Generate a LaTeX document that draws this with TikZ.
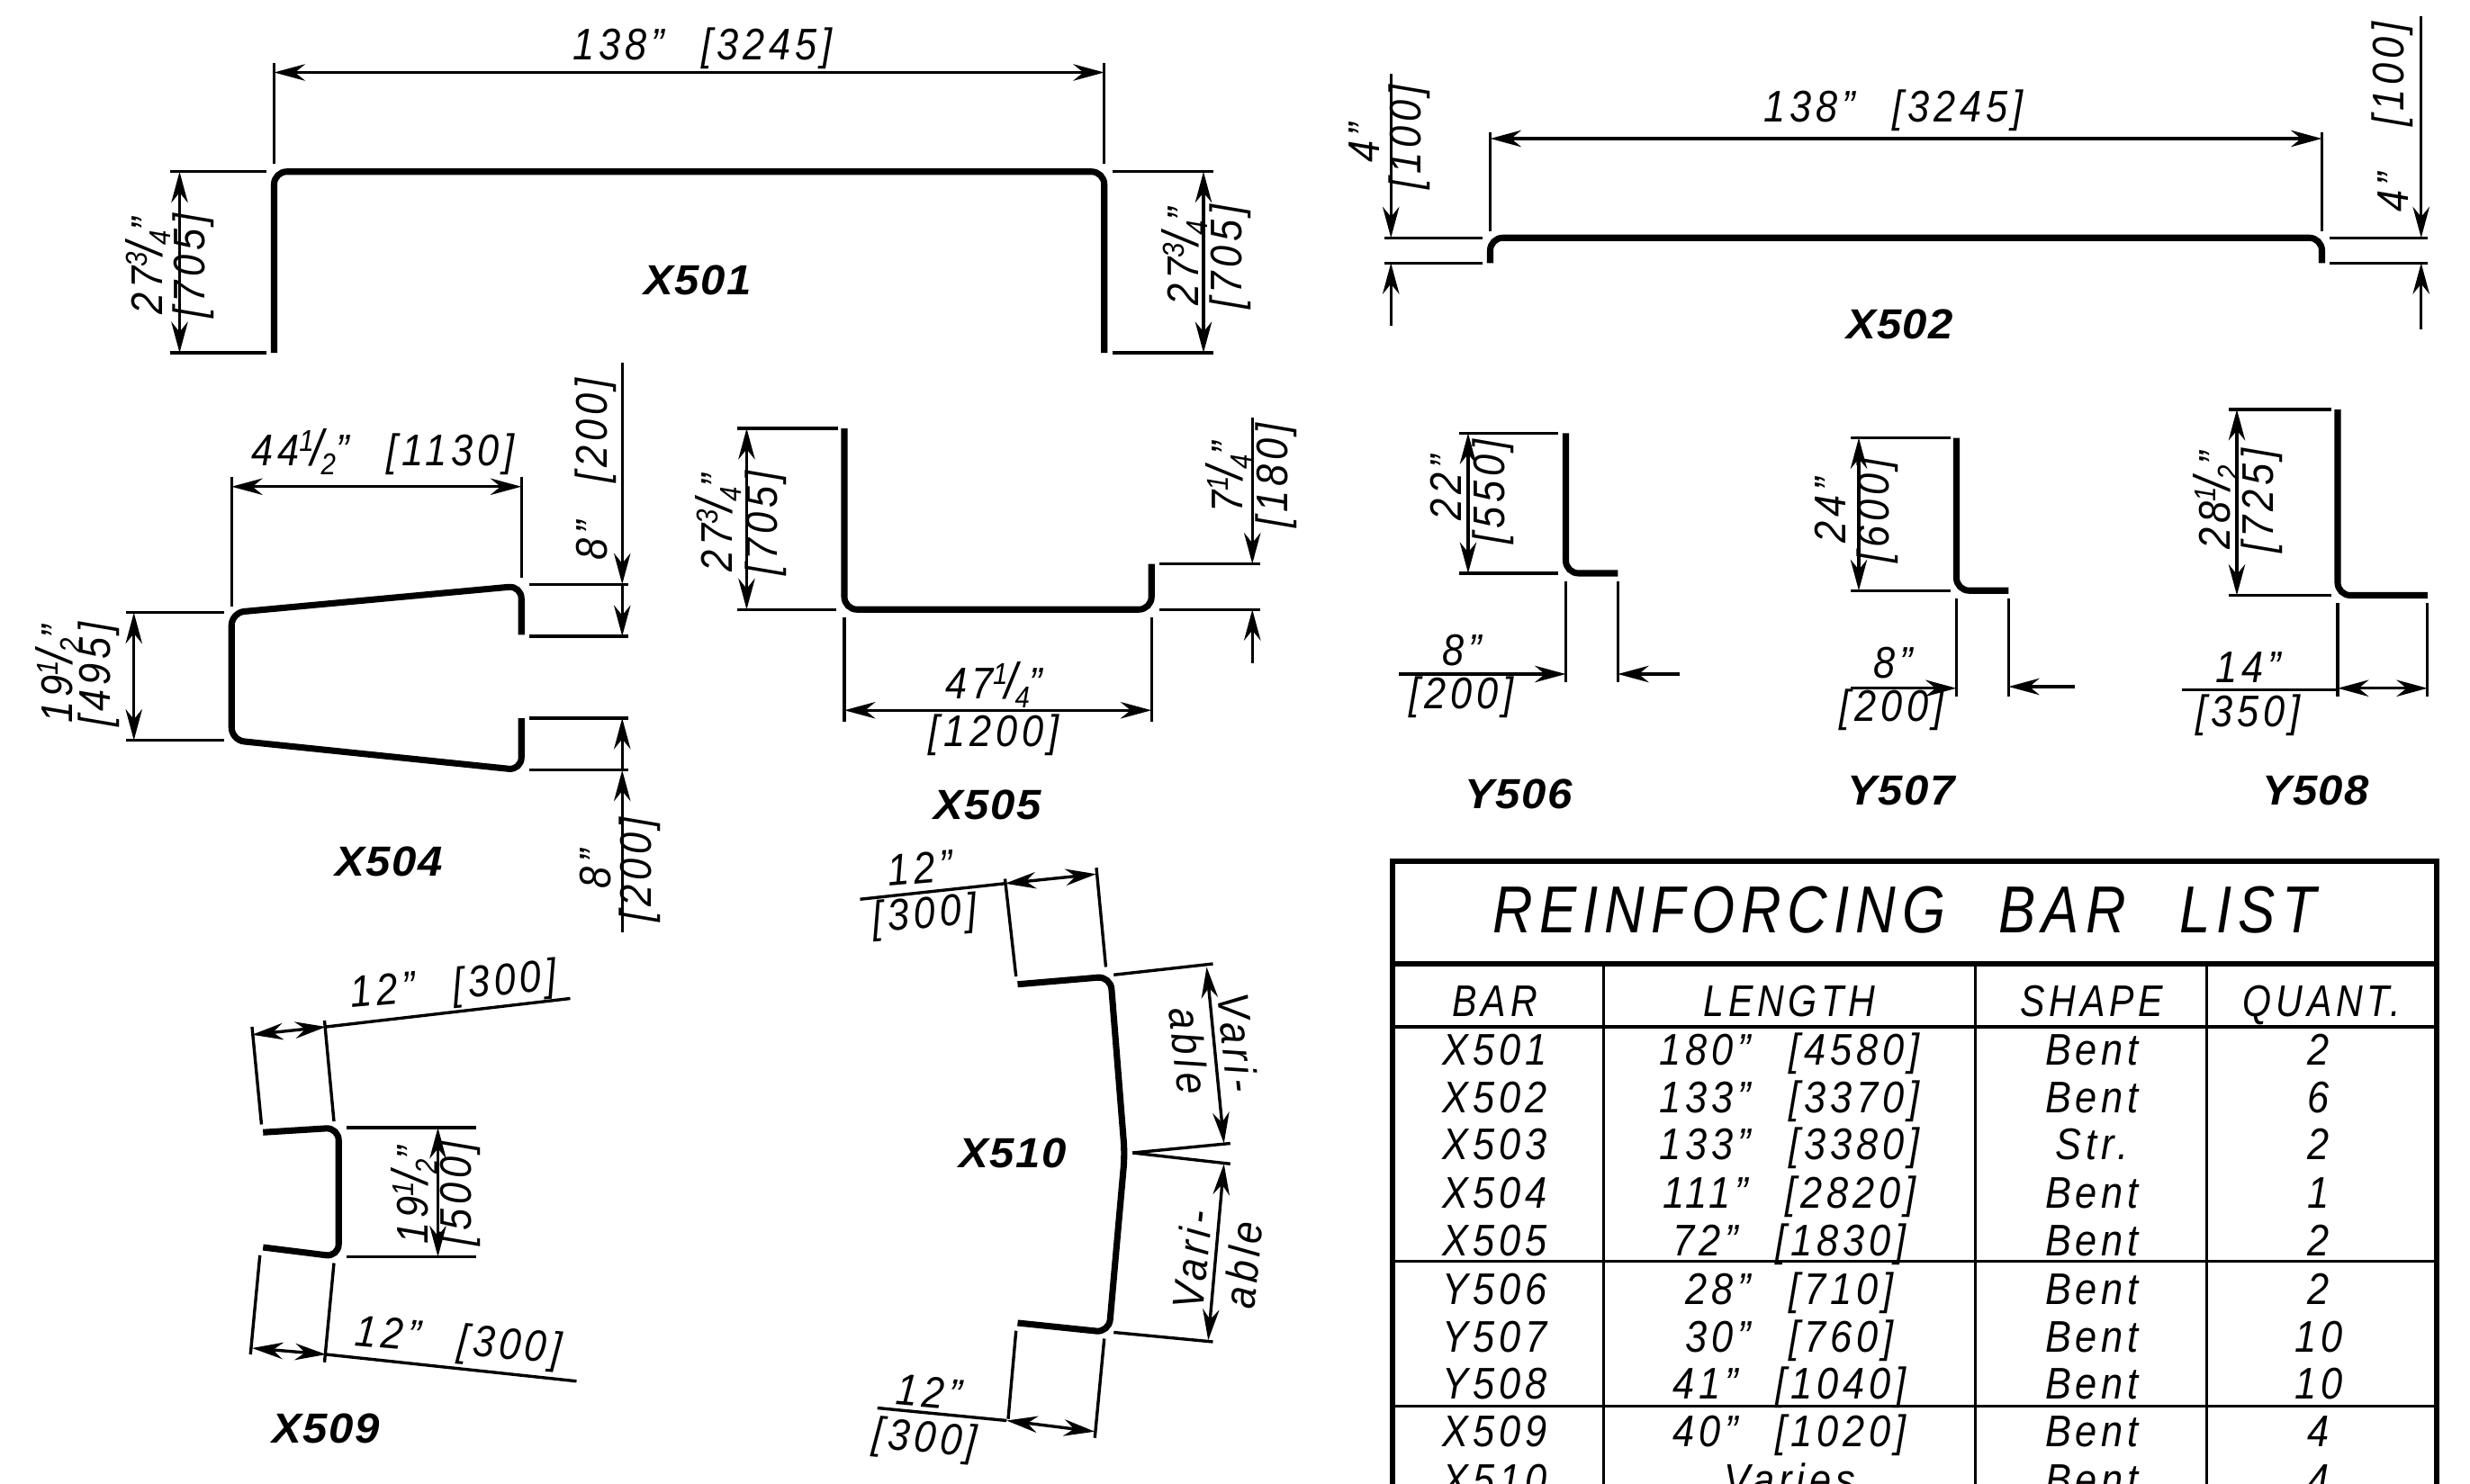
\documentclass[tikz,border=0pt]{standalone}
\usepackage{fontspec}
\setmainfont{Liberation Sans}[LetterSpace=10,FakeStretch=.88]
\newfontfamily\barfont{Liberation Sans}[LetterSpace=3,FakeStretch=1.05]
\usetikzlibrary{arrows.meta}
\newcommand{\barfrac}[2]{\raisebox{.62ex}{\scalebox{.68}{#1}}\kern-.06em\scalebox{1.15}{/}\kern-.06em\raisebox{-.38ex}{\scalebox{.68}{#2}}}
\newcommand{\dimgap}{\hspace{.85em}}
\tikzset{
	barline/.style={line width=1.15pt,rounded corners=2.3pt},
	extline/.style={line width=.55pt},
	dimline/.style={line width=.55pt,{Stealth[length=5.6pt,width=3pt]}-{Stealth[length=5.6pt,width=3pt]}},
	dimend/.style={line width=.55pt,-{Stealth[length=5.6pt,width=3pt]}},
	dimtext/.style={inner sep=0pt,font=\fontsize{8}{9}\selectfont\itshape},
	barlabel/.style={inner sep=0pt,font=\fontsize{7.6}{9}\selectfont\barfont\bfseries\itshape},
	cell/.style={inner sep=0pt,anchor=mid,font=\fontsize{8}{9}\selectfont\itshape},
	headcell/.style={cell,xscale=.95},
	tabline/.style={line width=.55pt},
	tabframe/.style={line width=1pt}
}
\begin{document}
\begin{tikzpicture}[x=0.01cm,y=-0.01cm]
	\useasboundingbox (0,0) rectangle (1568,942);
	\clip (0,0) rectangle (1568,942);
	% X501
	\draw [barline] (174,224) -- (174,109) -- (701,109) -- (701,224);
	\draw [extline] (174,104) -- (174,40);
	\draw [extline] (701,104) -- (701,40);
	\draw [dimline] (174,46) -- (701,46);
	\draw [extline] (108,109) -- (169,109);
	\draw [extline] (108,224) -- (169,224);
	\draw [dimline] (114,109) -- (114,224);
	\draw [extline] (706,109) -- (770,109);
	\draw [extline] (706,224) -- (770,224);
	\draw [dimline] (764,109) -- (764,224);
	\node (x501top) at (446,31) [dimtext] {138"\dimgap[3245]};
	\node (x501lefta) at (94,169) [dimtext,rotate=90] {27\barfrac{3}{4}"};
	\node (x501leftb) at (123,169) [dimtext,rotate=90] {[705]};
	\node (x501righta) at (752,163) [dimtext,rotate=90] {27\barfrac{3}{4}"};
	\node (x501rightb) at (781,163) [dimtext,rotate=90] {[705]};
	\node (x501) at (443,178) [barlabel] {X501};
	% X502
	\draw [barline] (946,167) -- (946,151) -- (1474,151) -- (1474,167);
	\draw [extline] (946,147) -- (946,84);
	\draw [extline] (1474,147) -- (1474,84);
	\draw [dimline] (946,88) -- (1474,88);
	\draw [extline] (879,151) -- (941,151);
	\draw [extline] (879,167) -- (941,167);
	\draw [dimend] (883,47) -- (883,151);
	\draw [dimend] (883,207) -- (883,167);
	\draw [extline] (1479,151) -- (1541,151);
	\draw [extline] (1479,167) -- (1541,167);
	\draw [dimend] (1537,10) -- (1537,151);
	\draw [dimend] (1537,209) -- (1537,167);
	\node (x502top) at (1202,70) [dimtext] {138"\dimgap[3245]};
	\node (x502lefta) at (866,91) [dimtext,rotate=90] {4"};
	\node (x502leftb) at (895,87) [dimtext,rotate=90] {[100]};
	\node (x502righta) at (1519,122) [dimtext,rotate=90] {4"};
	\node (x502rightb) at (1519,47) [dimtext,rotate=90] {[100]};
	\node (x502) at (1206,206) [barlabel] {X502};
	% X504
	\draw [barline] (331,403) -- (331,372) -- (147,389) -- (147,470) -- (331,489) -- (331,456);
	\draw [extline] (147,385) -- (147,303);
	\draw [extline] (331,367) -- (331,303);
	\draw [dimline] (147,309) -- (331,309);
	\draw [extline] (80,389) -- (142,389);
	\draw [extline] (80,470) -- (142,470);
	\draw [dimline] (85,389) -- (85,470);
	\draw [extline] (336,371) -- (399,371);
	\draw [extline] (336,404) -- (399,404);
	\draw [dimend] (395,230) -- (395,371);
	\draw [dimend] (395,371) -- (395,404);
	\draw [extline] (336,456) -- (399,456);
	\draw [extline] (336,489) -- (399,489);
	\draw [dimend] (395,489) -- (395,456);
	\draw [dimend] (395,592) -- (395,489);
	\node (x504top) at (243,287) [dimtext] {44\barfrac{1}{2}"\dimgap[1130]};
	\node (x504lefta) at (37,428) [dimtext,rotate=90] {19\barfrac{1}{2}"};
	\node (x504leftb) at (63,428) [dimtext,rotate=90] {[495]};
	\node (x504upper) at (378,298) [dimtext,rotate=90] {8"\dimgap[200]};
	\node (x504lowera) at (378,552) [dimtext,rotate=90] {8"};
	\node (x504lowerb) at (406,552) [dimtext,rotate=90] {[200]};
	\node (x504) at (247,547) [barlabel] {X504};
	% X505
	\draw [barline] (536,272) -- (536,387) -- (731,387) -- (731,358);
	\draw [extline] (468,272) -- (532,272);
	\draw [extline] (468,387) -- (531,387);
	\draw [dimline] (474,272) -- (474,387);
	\draw [extline] (736,358) -- (800,358);
	\draw [extline] (736,387) -- (800,387);
	\draw [dimend] (795,265) -- (795,358);
	\draw [dimend] (795,421) -- (795,387);
	\draw [extline] (536,392) -- (536,458);
	\draw [extline] (731,392) -- (731,458);
	\draw [dimline] (536,451) -- (731,451);
	\node (x505lefta) at (456,332) [dimtext,rotate=90] {27\barfrac{3}{4}"};
	\node (x505leftb) at (486,332) [dimtext,rotate=90] {[705]};
	\node (x505righta) at (780,303) [dimtext,rotate=90] {7\barfrac{1}{4}"};
	\node (x505rightb) at (810,302) [dimtext,rotate=90] {[180]};
	\node (x505downa) at (631,435) [dimtext] {47\barfrac{1}{4}"};
	\node (x505downb) at (631,467) [dimtext] {[1200]};
	\node (x505) at (627,511) [barlabel] {X505};
	% Y506
	\draw [barline] (994,275) -- (994,364) -- (1027,364);
	\draw [extline] (926,275) -- (989,275);
	\draw [extline] (926,364) -- (989,364);
	\draw [dimline] (932,275) -- (932,364);
	\draw [extline] (994,369) -- (994,433);
	\draw [extline] (1027,369) -- (1027,433);
	\draw [dimend] (888,428) -- (994,428);
	\draw [dimend] (1066,428) -- (1027,428);
	\node (y506lefta) at (918,310) [dimtext,rotate=90] {22"};
	\node (y506leftb) at (948,312) [dimtext,rotate=90] {[550]};
	\node (y506downa) at (928,413) [dimtext] {8"};
	\node (y506downb) at (928,443) [dimtext] {[200]};
	\node (y506) at (964,504) [barlabel] {Y506};
	% Y507
	\draw [barline] (1242,278) -- (1242,375) -- (1275,375);
	\draw [extline] (1175,278) -- (1238,278);
	\draw [extline] (1175,375) -- (1238,375);
	\draw [dimline] (1180,278) -- (1180,375);
	\draw [extline] (1242,380) -- (1242,442);
	\draw [extline] (1275,380) -- (1275,442);
	\draw [dimend] (1175,437) -- (1242,437);
	\draw [dimend] (1317,436) -- (1275,436);
	\node (y507lefta) at (1162,324) [dimtext,rotate=90] {24"};
	\node (y507leftb) at (1192,324) [dimtext,rotate=90] {[600]};
	\node (y507downa) at (1202,421) [dimtext] {8"};
	\node (y507downb) at (1201,451) [dimtext] {[200]};
	\node (y507) at (1207,502) [barlabel] {Y507};
	% Y508
	\draw [barline] (1484,260) -- (1484,378) -- (1541,378);
	\draw [extline] (1415,260) -- (1480,260);
	\draw [extline] (1415,378) -- (1480,378);
	\draw [dimline] (1420,260) -- (1420,378);
	\draw [extline] (1484,383) -- (1484,442);
	\draw [extline] (1541,383) -- (1541,442);
	\draw [extline] (1385,438) -- (1484,438);
	\draw [dimline] (1484,437) -- (1541,437);
	\node (y508lefta) at (1407,318) [dimtext,rotate=90] {28\barfrac{1}{2}"};
	\node (y508leftb) at (1436,318) [dimtext,rotate=90] {[725]};
	\node (y508downa) at (1427,424) [dimtext] {14"};
	\node (y508downb) at (1427,454) [dimtext] {[350]};
	\node (y508) at (1470,502) [barlabel] {Y508};
	% X509
	\draw [barline] (167,719) -- (215,716) -- (215,798) -- (167,792);
	\draw [extline] (166,714) -- (160,652);
	\draw [extline] (212,712) -- (206,648);
	\draw [dimline] (160,657) -- (207,652);
	\draw [extline] (207,652) -- (362,634);
	\draw [extline] (220,716) -- (302,716);
	\draw [extline] (220,798) -- (302,798);
	\draw [dimline] (278,716) -- (278,798);
	\draw [extline] (165,797) -- (159,860);
	\draw [extline] (212,802) -- (206,865);
	\draw [dimline] (160,856) -- (207,860);
	\draw [extline] (207,860) -- (366,877);
	\node (x509top) at (288,627) [dimtext,rotate=5] {12"\dimgap[300]};
	\node (x509righta) at (263,759) [dimtext,rotate=90] {19\barfrac{1}{2}"};
	\node (x509rightb) at (292,758) [dimtext,rotate=90] {[500]};
	\node (x509down) at (291,853) [dimtext,rotate=-5] {12"\dimgap[300]};
	\node (x509) at (207,907) [barlabel] {X509};
	% X510
	\draw [barline] (646,625) -- (705,620) -- (714,733) -- (704,846) -- (646,840);
	\draw [extline] (638,558) -- (645,620);
	\draw [extline] (696,551) -- (702,614);
	\draw [dimline] (638,561) -- (696,555);
	\draw [extline] (546,571) -- (638,561);
	\draw [extline] (707,619) -- (770,612);
	\draw [extline] (719,732) -- (781,726);
	\draw [extline] (719,732) -- (781,739);
	\draw [extline] (707,846) -- (770,852);
	\draw [dimline] (766,614) -- (777,726);
	\draw [dimline] (777,739) -- (767,851);
	\draw [extline] (645,845) -- (640,901);
	\draw [extline] (701,850) -- (695,913);
	\draw [dimline] (639,902) -- (695,909);
	\draw [extline] (557,894) -- (639,902);
	\node (x510upa) at (584,551) [dimtext,rotate=5] {12"};
	\node (x510upb) at (587,582) [dimtext,rotate=5] {[300]};
	\node (x510downa) at (590,884) [dimtext,rotate=-5] {12"};
	\node (x510downb) at (587,915) [dimtext,rotate=-5] {[300]};
	\node (x510vara) at (786,662) [dimtext,rotate=-84] {Vari-};
	\node (x510varb) at (755,667) [dimtext,rotate=-84] {able};
	\node (x510varc) at (757,800) [dimtext,rotate=84] {Vari-};
	\node (x510vard) at (789,803) [dimtext,rotate=84] {able};
	\node (x510) at (643,732) [barlabel] {X510};
	% bar list
	\draw [tabframe] (884,950) -- (884,547) -- (1547,547) -- (1547,950);
	\draw [tabframe] (884,612) -- (1547,612);
	\draw [tabline] (884,652) -- (1547,652);
	\draw [tabline] (884,801) -- (1547,801);
	\draw [tabline] (884,893) -- (1547,893);
	\draw [tabline] (1018,612) -- (1018,950);
	\draw [tabline] (1254,612) -- (1254,950);
	\draw [tabline] (1401,612) -- (1401,950);
	\node (listtitle) at (1209,578) [inner sep=0pt,xscale=.95,font=\fontsize{12}{14}\selectfont\itshape] {REINFORCING\dimgap BAR\dimgap LIST};
	\node (headbar) at (949,636) [headcell] {BAR};
	\node (headlength) at (1136,636) [headcell] {LENGTH};
	\node (headshape) at (1328,636) [headcell] {SHAPE};
	\node (headquant) at (1474,636) [headcell] {QUANT.};
	\node (rowa) at (949,667) [cell] {X501};
	\node (rowalen) at (1136,667) [cell] {180"\dimgap[4580]};
	\node (rowashape) at (1328,667) [cell] {Bent};
	\node (rowaqty) at (1472,667) [cell] {2};
	\node (rowb) at (949,697) [cell] {X502};
	\node (rowblen) at (1136,697) [cell] {133"\dimgap[3370]};
	\node (rowbshape) at (1328,697) [cell] {Bent};
	\node (rowbqty) at (1472,697) [cell] {6};
	\node (rowc) at (949,727) [cell] {X503};
	\node (rowclen) at (1136,727) [cell] {133"\dimgap[3380]};
	\node (rowcshape) at (1328,727) [cell] {Str.};
	\node (rowcqty) at (1472,727) [cell] {2};
	\node (rowd) at (949,758) [cell] {X504};
	\node (rowdlen) at (1136,758) [cell] {111"\dimgap[2820]};
	\node (rowdshape) at (1328,758) [cell] {Bent};
	\node (rowdqty) at (1472,758) [cell] {1};
	\node (rowe) at (949,788) [cell] {X505};
	\node (rowelen) at (1136,788) [cell] {72"\dimgap[1830]};
	\node (roweshape) at (1328,788) [cell] {Bent};
	\node (roweqty) at (1472,788) [cell] {2};
	\node (rowf) at (949,819) [cell] {Y506};
	\node (rowflen) at (1136,819) [cell] {28"\dimgap[710]};
	\node (rowfshape) at (1328,819) [cell] {Bent};
	\node (rowfqty) at (1472,819) [cell] {2};
	\node (rowg) at (949,849) [cell] {Y507};
	\node (rowglen) at (1136,849) [cell] {30"\dimgap[760]};
	\node (rowgshape) at (1328,849) [cell] {Bent};
	\node (rowgqty) at (1472,849) [cell] {10};
	\node (rowh) at (949,879) [cell] {Y508};
	\node (rowhlen) at (1136,879) [cell] {41"\dimgap[1040]};
	\node (rowhshape) at (1328,879) [cell] {Bent};
	\node (rowhqty) at (1472,879) [cell] {10};
	\node (rowi) at (949,909) [cell] {X509};
	\node (rowilen) at (1136,909) [cell] {40"\dimgap[1020]};
	\node (rowishape) at (1328,909) [cell] {Bent};
	\node (rowiqty) at (1472,909) [cell] {4};
	\node (rowj) at (949,940) [cell] {X510};
	\node (rowjlen) at (1136,940) [cell] {Varies};
	\node (rowjshape) at (1328,940) [cell] {Bent};
	\node (rowjqty) at (1472,940) [cell] {4};
\end{tikzpicture}
\end{document}
